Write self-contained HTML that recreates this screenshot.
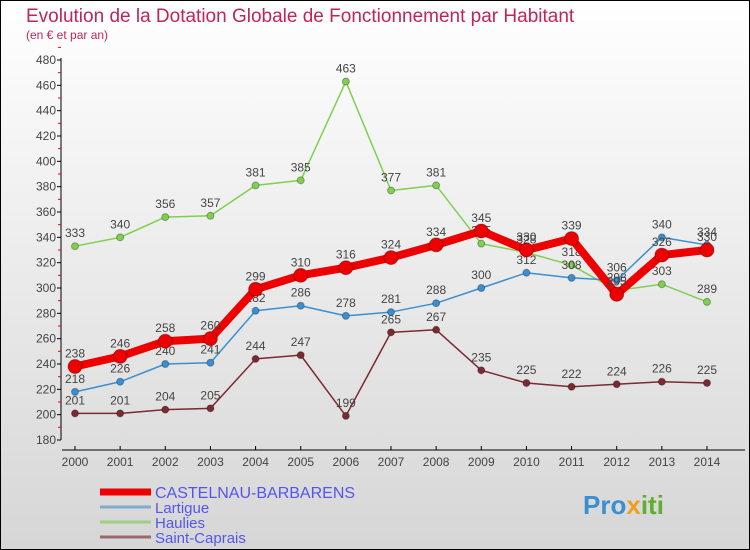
<!DOCTYPE html>
<html><head><meta charset="utf-8"><style>
body{margin:0}
#c{width:750px;height:550px;position:relative;overflow:hidden;font-family:"Liberation Sans",sans-serif}
</style></head><body>
<div id="c">
<svg id="s" width="750" height="550" xmlns="http://www.w3.org/2000/svg">
<defs><linearGradient id="bg" x1="0" y1="0" x2="0" y2="1"><stop offset="0" stop-color="#ffffff"/><stop offset="1" stop-color="#d6d6d6"/></linearGradient></defs>
<rect x="0.5" y="0.5" width="749" height="549" fill="url(#bg)" stroke="#000"/>
<text x="26" y="22" font-size="19" fill="#c0245a">Evolution de la Dotation Globale de Fonctionnement par Habitant</text>
<text x="26" y="39" font-size="12" fill="#c0245a">(en € et par an)</text>
<g id="axes"></g><g id="series"></g><g id="legend"></g>
<text x="583" y="514" font-size="26" font-weight="bold" fill="#3a8fd0">Pro<tspan fill="#f0a020">x</tspan><tspan fill="#60b030">iti</tspan></text>
</svg>
</div>
<script>
const years=["2000","2001","2002","2003","2004","2005","2006","2007","2008","2009","2010","2011","2012","2013","2014"];
const castelnau=[238,246,258,260,299,310,316,324,334,345,330,339,295,326,330];
const lartigue=[218,226,240,241,282,286,278,281,288,300,312,308,306,340,334];
const haulies=[333,340,356,357,381,385,463,377,381,335,328,318,298,303,289];
const saintCaprais=[201,201,204,205,244,247,199,265,267,235,225,222,224,226,225];
const yTicks=[180,200,220,240,260,280,300,320,340,360,380,400,420,440,460,480];
const NS="http://www.w3.org/2000/svg";
function X(i){return 75+i*(707-75)/14;}
function Y(v){return 440-(v-180)*380/300;}
function mk(t,a,p){const e=document.createElementNS(NS,t);for(const k in a)e.setAttribute(k,a[k]);p.appendChild(e);return e;}
const ax=document.getElementById('axes');
let l=mk('line',{x1:61,y1:58,x2:61,y2:440,stroke:'#000'},ax);


l=mk('line',{x1:62,y1:450,x2:745,y2:450,stroke:'#000'},ax);


yTicks.forEach(v=>{
 mk('line',{x1:57,y1:Y(v),x2:61,y2:Y(v),stroke:'#000'},ax);
 mk('line',{x1:58,y1:Y(v+10),x2:61,y2:Y(v+10),stroke:'#e00'},ax);
 const t=mk('text',{x:56,y:Y(v)+4,'font-size':12,fill:'#444','text-anchor':'end'},ax);t.textContent=v;
 
 
});
years.forEach((y,i)=>{
 mk('line',{x1:X(i),y1:446,x2:X(i),y2:450,stroke:'#000'},ax);
 const t=mk('text',{x:X(i),y:466,'font-size':12,fill:'#444','text-anchor':'middle'},ax);t.textContent=y;
 
 
});
const sg=document.getElementById('series');
const series=[
 {name:'saint-caprais',d:saintCaprais,c:'#7a2a30',w:1.5,r:3.5,lab:'Saint-Caprais',lc:'#9a6a6a'},
 {name:'haulies',d:haulies,c:'#80d050',w:1.5,r:3.5,lab:'Haulies',lc:'#9ad080'},
 {name:'lartigue',d:lartigue,c:'#3a8fd0',w:1.5,r:3.5,lab:'Lartigue',lc:'#80acd0'},
 {name:'castelnau-barbarens',d:castelnau,c:'#ee0000',w:8,r:7,lab:'CASTELNAU-BARBARENS',lc:'#ee0000'}
];
series.forEach(s=>{
 const g=mk('g',{},sg);
 
 
 const pl=mk('polyline',{points:s.d.map((v,i)=>X(i)+','+Y(v)).join(' '),fill:'none',stroke:s.c,'stroke-width':s.w,'stroke-linejoin':'round'},g);
 
 
 s.d.forEach((v,i)=>{
  const c=mk('circle',{cx:X(i),cy:Y(v),r:s.r,fill:s.c,stroke:'rgba(0,0,0,0.3)','stroke-width':1},g);
  
  
  const t=mk('text',{x:X(i),y:Y(v)-9,'font-size':12,fill:'#444','text-anchor':'middle'},g);t.textContent=v;
  
  
 });
});
const lg=document.getElementById('legend');
const lrows=[series[3],series[2],series[1],series[0]];
lrows.forEach((s,k)=>{
 const y=492+k*15;
 const g=mk('g',{},lg);
 
 
 mk('line',{x1:100,y1:y,x2:151,y2:y,stroke:s.lc,'stroke-width':k==0?7:3},g);
 const t=mk('text',{x:155,y:y+6,'font-size':k==0?16:15,fill:'#5555ee'},g);t.textContent=s.lab;
});
</script>
</body></html>
